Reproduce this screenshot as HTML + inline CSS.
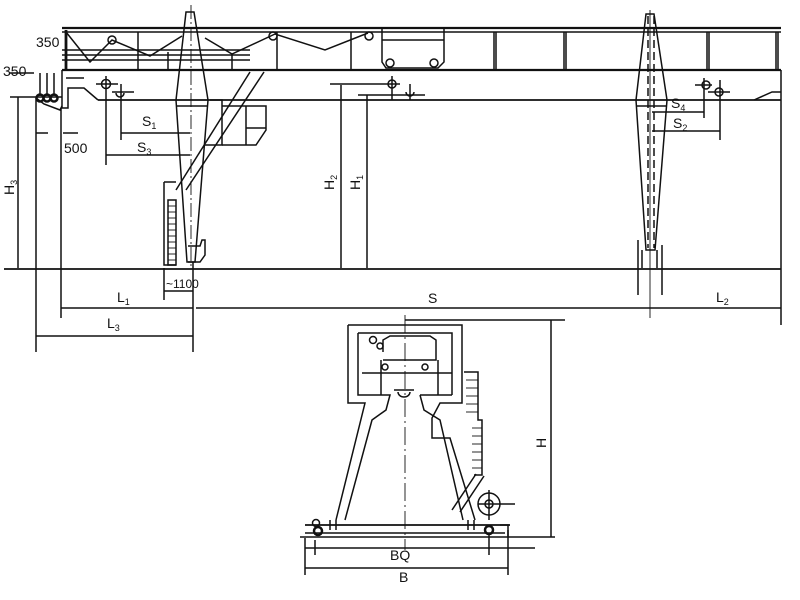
<!DOCTYPE html>
<html><head><meta charset="utf-8"><style>
html,body{margin:0;padding:0;background:#fff;width:800px;height:600px;overflow:hidden}
svg{display:block}
text{font-family:"Liberation Sans",sans-serif;fill:#111}
</style></head><body>
<svg width="800" height="600" viewBox="0 0 800 600" xmlns="http://www.w3.org/2000/svg">
<g stroke="#111" fill="none" stroke-width="1.5">
<line x1="62" y1="28" x2="781" y2="28" stroke-width="2.2"/>
<line x1="62" y1="32" x2="781" y2="32"/>
<polyline points="66,32 90,62 112,40 150,56 182,36"/>
<polyline points="205,38 232,54 275,34 325,50 368,33"/>
<line x1="62" y1="50" x2="250" y2="50"/><line x1="62" y1="55" x2="250" y2="55"/><line x1="62" y1="60" x2="250" y2="60"/>
<line x1="66" y1="30" x2="66" y2="70" stroke-width="2.8"/>
<line x1="138" y1="32" x2="138" y2="70"/><line x1="168" y1="52" x2="168" y2="70"/>
<line x1="232" y1="54" x2="232" y2="70"/><line x1="277" y1="32" x2="277" y2="70"/>
<line x1="351" y1="32" x2="351" y2="70"/>
<line x1="494" y1="32" x2="494" y2="70"/><line x1="496" y1="32" x2="496" y2="70"/>
<line x1="564" y1="32" x2="564" y2="70"/><line x1="566" y1="32" x2="566" y2="70"/>
<line x1="707" y1="32" x2="707" y2="70"/><line x1="709" y1="32" x2="709" y2="70"/>
<line x1="776" y1="32" x2="776" y2="70"/><line x1="778" y1="32" x2="778" y2="70"/>
<circle cx="112" cy="40" r="4"/><circle cx="273" cy="36" r="4"/><circle cx="369" cy="36" r="4"/>
<path d="M382,28 L444,28 L444,62 L438,68 L386,68 L382,62 Z"/>
<line x1="382" y1="40" x2="444" y2="40"/>
<circle cx="390" cy="63" r="4"/><circle cx="434" cy="63" r="4"/>
<line x1="62" y1="70" x2="781" y2="70" stroke-width="2.2"/>
<line x1="98" y1="100" x2="781" y2="100" stroke-width="1.8"/>
<path d="M62,70 L62,108 L68,108 L68,88 L84,88 L98,100"/>
<path d="M781,70 L781,325"/>
<path d="M754,100 L772,92 L781,92"/>
<circle cx="40" cy="98" r="3.5" stroke-width="2.5"/><circle cx="47" cy="98" r="3.5" stroke-width="2.5"/><circle cx="54" cy="98" r="3.5" stroke-width="2.5"/>
<path d="M36,98 L44,104 L60,110 L62,106"/>
<line x1="40" y1="73" x2="40" y2="96"/><line x1="47" y1="73" x2="47" y2="96"/><line x1="54" y1="73" x2="54" y2="96"/>
<line x1="10" y1="97" x2="62" y2="97"/>
<line x1="10" y1="73" x2="34" y2="73"/>
<line x1="66" y1="78" x2="84" y2="78"/>
<circle cx="106" cy="84" r="4.5"/><line x1="96" y1="84" x2="118" y2="84"/><line x1="106" y1="76" x2="106" y2="165"/>
<path d="M116,93 a4,4 0 0 0 8,0"/><line x1="112" y1="92" x2="134" y2="92"/><line x1="121" y1="84" x2="121" y2="140"/>
<circle cx="392" cy="84" r="4"/><line x1="330" y1="84" x2="400" y2="84"/><line x1="392" y1="76" x2="392" y2="100"/>
<path d="M406,92 a4,4 0 0 0 8,0"/><line x1="358" y1="95" x2="425" y2="95"/><line x1="410" y1="84" x2="410" y2="100"/>
<path d="M702,85 a4,4 0 0 1 8,0 a4,4 0 0 1 -8,0"/><line x1="695" y1="85" x2="712" y2="85"/><line x1="704" y1="78" x2="704" y2="118"/>
<path d="M715,92 a4,4 0 0 1 8,0 a4,4 0 0 1 -8,0"/><line x1="708" y1="92" x2="730" y2="92"/><line x1="720" y1="80" x2="720" y2="140"/>
<path d="M186,12 L194,12 L208,100 L195,262 L187,262 L176,100 Z"/>
<line x1="191" y1="5" x2="191" y2="268" stroke-dasharray="14,3,2,3" stroke-width="0.9"/>
<line x1="176" y1="106" x2="208" y2="106"/>
<line x1="176" y1="190" x2="250" y2="72"/><line x1="186" y1="190" x2="264" y2="72"/>
<path d="M210,100 L222,100 L222,145 L205,145"/>
<path d="M222,106 L266,106 L266,130 L256,145 L222,145"/>
<line x1="246" y1="106" x2="246" y2="145"/><line x1="246" y1="128" x2="266" y2="128"/>
<path d="M164,182 L176,182 M164,182 L164,265 L176,265"/>
<path d="M168,200 L176,200 L176,265 L168,265 Z"/>
<g stroke-width="0.9"><line x1="168" y1="206" x2="176" y2="206"/><line x1="168" y1="212" x2="176" y2="212"/><line x1="168" y1="218" x2="176" y2="218"/><line x1="168" y1="224" x2="176" y2="224"/><line x1="168" y1="230" x2="176" y2="230"/><line x1="168" y1="236" x2="176" y2="236"/><line x1="168" y1="242" x2="176" y2="242"/><line x1="168" y1="248" x2="176" y2="248"/><line x1="168" y1="254" x2="176" y2="254"/><line x1="168" y1="260" x2="176" y2="260"/></g>
<path d="M188,246 L200,246 L202,240 L205,240 L205,255 L200,262 L188,262"/>
<path d="M646,14 L654,14 L667,100 L655,250 L646,250 L636,100 Z"/>
<line x1="648" y1="16" x2="648" y2="248" stroke-dasharray="8,4"/><line x1="654" y1="16" x2="654" y2="248" stroke-dasharray="8,4"/>
<line x1="650" y1="10" x2="650" y2="318" stroke-width="0.9"/>
<line x1="636" y1="106" x2="667" y2="106"/>
<path d="M638,240 L638,295 M662,245 L662,295 M642,250 L642,268 M657,250 L657,268"/>
<line x1="4" y1="269" x2="781" y2="269" stroke-width="1.8"/>
<line x1="18" y1="97" x2="18" y2="268"/>
<line x1="36" y1="98" x2="36" y2="352"/>
<line x1="61" y1="108" x2="61" y2="318"/>
<line x1="193" y1="262" x2="193" y2="352"/>
<line x1="164" y1="268" x2="164" y2="300"/>
<line x1="164" y1="291" x2="193" y2="291"/>
<line x1="341" y1="85" x2="341" y2="268"/>
<line x1="367" y1="95" x2="367" y2="268"/>
<line x1="36" y1="133" x2="48" y2="133"/><line x1="63" y1="133" x2="78" y2="133"/>
<line x1="121" y1="133" x2="190" y2="133"/>
<line x1="106" y1="155" x2="190" y2="155"/>
<line x1="652" y1="112" x2="704" y2="112"/>
<line x1="652" y1="131" x2="720" y2="131"/>
<line x1="61" y1="308" x2="193" y2="308"/>
<line x1="196" y1="308" x2="781" y2="308"/>
<line x1="36" y1="336" x2="193" y2="336"/>
<path d="M348,325 L462,325 L462,403 L440,403 L432,418 L432,438 L450,438 L475,520 M348,325 L348,403 L365,403 L336,520"/>
<path d="M358,333 L452,333 L452,395 M358,333 L358,395 L390,395 L386,410 L372,420 L345,520"/>
<path d="M420,395 L452,395 M420,395 L424,410 L440,420 L463,520"/>
<path d="M381,360 L381,395 M438,360 L438,395 M362,373 L452,373"/>
<path d="M383,352 L383,340 L390,336 L430,336 L436,340 L436,360 L383,360"/>
<circle cx="373" cy="340" r="3.5"/><circle cx="380" cy="346" r="3"/>
<circle cx="385" cy="367" r="3"/><circle cx="425" cy="367" r="3"/>
<path d="M398,392 a6,5 0 0 0 12,0"/><line x1="394" y1="390" x2="414" y2="390"/>
<line x1="405" y1="315" x2="405" y2="550" stroke-dasharray="18,4,2,4" stroke-width="0.9"/>
<path d="M464,372 L478,372 L478,420 L482,420 L482,475 L474,475"/>
<g stroke-width="0.9"><line x1="466" y1="380" x2="478" y2="380"/><line x1="466" y1="388" x2="478" y2="388"/><line x1="466" y1="396" x2="478" y2="396"/><line x1="466" y1="404" x2="478" y2="404"/><line x1="466" y1="412" x2="478" y2="412"/><line x1="472" y1="428" x2="482" y2="428"/><line x1="472" y1="436" x2="482" y2="436"/><line x1="472" y1="444" x2="482" y2="444"/><line x1="472" y1="452" x2="482" y2="452"/><line x1="472" y1="460" x2="482" y2="460"/><line x1="472" y1="468" x2="482" y2="468"/></g>
<line x1="452" y1="510" x2="476" y2="474"/><line x1="460" y1="512" x2="484" y2="476"/>
<circle cx="489" cy="504" r="11"/><circle cx="489" cy="504" r="4"/>
<line x1="478" y1="504" x2="515" y2="504"/><line x1="489" y1="490" x2="489" y2="520"/>
<line x1="305" y1="525" x2="510" y2="525" stroke-width="1.8"/>
<line x1="305" y1="533" x2="505" y2="533"/>
<line x1="300" y1="537" x2="555" y2="537" stroke-width="1.6"/>
<line x1="330" y1="520" x2="330" y2="530"/><line x1="336" y1="520" x2="336" y2="530"/>
<line x1="468" y1="520" x2="468" y2="530"/><line x1="474" y1="520" x2="474" y2="530"/>
<circle cx="316" cy="523" r="3.5"/><circle cx="318" cy="531" r="4" stroke-width="2.5"/>
<circle cx="489" cy="530" r="4" stroke-width="2.5"/>
<path d="M500,525 L508,525 L508,537"/>
<line x1="315" y1="540" x2="315" y2="555"/><line x1="489" y1="535" x2="489" y2="555"/>
<line x1="305" y1="538" x2="305" y2="575"/><line x1="508" y1="530" x2="508" y2="575"/>
<line x1="305" y1="548" x2="535" y2="548"/>
<line x1="305" y1="568" x2="508" y2="568"/>
<line x1="405" y1="320" x2="565" y2="320"/>
<line x1="551" y1="320" x2="551" y2="537"/>
</g>
<g font-size="14">
<text x="36" y="47">350</text>
<text x="3" y="76">350</text>
<text x="64" y="153">500</text>
<text x="142" y="126">S<tspan font-size="9" dy="3">1</tspan></text>
<text x="137" y="152">S<tspan font-size="9" dy="3">3</tspan></text>
<text x="671" y="108">S<tspan font-size="9" dy="3">4</tspan></text>
<text x="673" y="128">S<tspan font-size="9" dy="3">2</tspan></text>
<text x="166" y="288" font-size="12">~1100</text>
<text x="117" y="302">L<tspan font-size="9" dy="3">1</tspan></text>
<text x="107" y="328">L<tspan font-size="9" dy="3">3</tspan></text>
<text x="428" y="303">S</text>
<text x="716" y="302">L<tspan font-size="9" dy="3">2</tspan></text>
<text x="390" y="560">BQ</text>
<text x="399" y="582">B</text>
<text transform="translate(14,195) rotate(-90)">H<tspan font-size="9" dy="3">3</tspan></text>
<text transform="translate(334,190) rotate(-90)">H<tspan font-size="9" dy="3">2</tspan></text>
<text transform="translate(360,190) rotate(-90)">H<tspan font-size="9" dy="3">1</tspan></text>
<text transform="translate(546,448) rotate(-90)">H</text>
</g>
</svg>
</body></html>
